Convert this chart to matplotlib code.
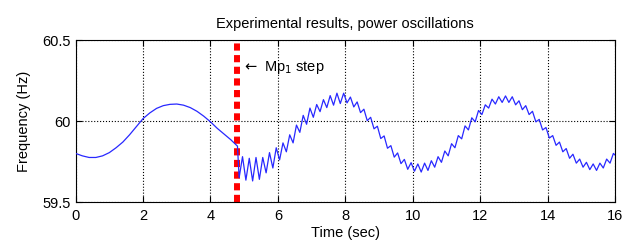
import numpy as np
import matplotlib
matplotlib.use("Agg")
import matplotlib.pyplot as plt

plt.rcParams['font.family'] = ['Liberation Sans', 'DejaVu Sans']

# frequency before the Mp1 step (sampled every 0.2 s)
t_pre = np.round(np.arange(0, 4.81, 0.2), 2)
f_pre = [59.80, 59.785, 59.775, 59.775, 59.785, 59.805, 59.835, 59.87, 59.915,
         59.965, 60.015, 60.05, 60.078, 60.095, 60.103, 60.105, 60.098, 60.083,
         60.06, 60.03, 59.995, 59.955, 59.92, 59.885, 59.845]

# after the step: ripple peaks / troughs read every 0.1 s
t_post = np.round(np.arange(4.85, 15.96, 0.1), 2)
f_post = [59.65, 59.78, 59.635, 59.77, 59.63, 59.775, 59.64, 59.775, 59.68, 59.805,
          59.71, 59.835, 59.76, 59.865, 59.81, 59.915, 59.865, 59.975, 59.93, 60.035,
          59.98, 60.08, 60.023, 60.102, 60.058, 60.132, 60.083, 60.157, 60.098, 60.172,
          60.108, 60.172, 60.112, 60.148, 60.087, 60.118, 60.052, 60.073, 60.002, 60.023,
          59.952, 59.968, 59.892, 59.908, 59.832, 59.848, 59.777, 59.803, 59.737, 59.763,
          59.702, 59.743, 59.69, 59.735, 59.685, 59.74, 59.695, 59.755, 59.715, 59.78,
          59.745, 59.815, 59.785, 59.86, 59.835, 59.91, 59.89, 59.97, 59.945, 60.02,
          59.995, 60.065, 60.04, 60.10, 60.08, 60.135, 60.105, 60.15, 60.115, 60.155,
          60.115, 60.15, 60.10, 60.125, 60.07, 60.095, 60.04, 60.06, 59.995, 60.01,
          59.945, 59.96, 59.895, 59.91, 59.85, 59.87, 59.81, 59.83, 59.77, 59.795,
          59.74, 59.765, 59.715, 59.745, 59.70, 59.735, 59.695, 59.74, 59.71, 59.765,
          59.74, 59.80]
t_end = [16.0]
f_end = [59.79]

t_step = 4.8

t = np.concatenate([t_pre, t_post, t_end])
f = np.concatenate([f_pre, f_post, f_end])

fig = plt.figure(figsize=(6.27, 2.45), dpi=100)
ax = fig.add_axes([0.1206, 0.1755, 0.8604, 0.661])

ax.axvline(t_step, color='red', lw=4.3, linestyle=(0, (1.2, 0.75)), zorder=2)
ax.plot(t, f, color='#2828ff', lw=0.9, zorder=3)

ax.annotate(r'$\leftarrow$ Mp$_1$ step', xy=(4.93, 60.33), fontsize=10.5,
            va='center', ha='left')

ax.set_xlim(0, 16)
ax.set_ylim(59.5, 60.5)
ax.set_xticks(range(0, 17, 2))
ax.set_yticks([59.5, 60, 60.5])
ax.set_yticklabels(['59.5', '60', '60.5'])
ax.tick_params(direction='in', top=True, right=True, length=4, labelsize=10.5)
ax.tick_params(axis='x', pad=5)
ax.grid(True, color='black', linestyle=':', lw=0.8)
ax.set_xlabel('Time (sec)', fontsize=10.5, labelpad=2)
ax.set_ylabel('Frequency (Hz)', fontsize=10.5, labelpad=8)
ax.set_title('Experimental results, power oscillations', fontsize=10.5, pad=9)

fig.savefig('out.png', dpi=100)
